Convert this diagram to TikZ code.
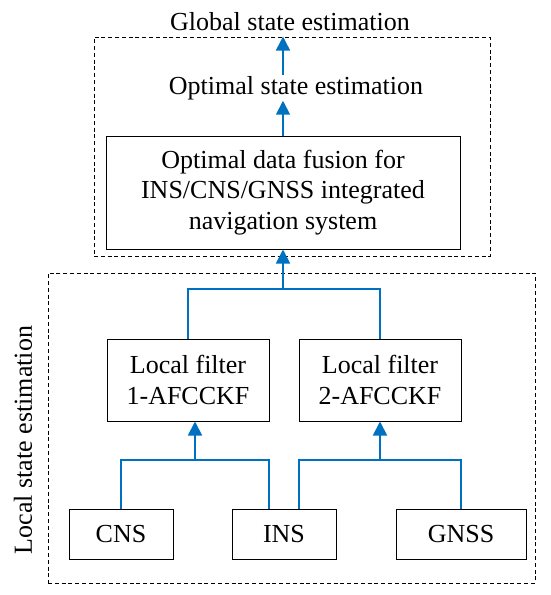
\documentclass[tikz,border=0pt]{standalone}
\usepackage{fontspec}
\setmainfont{Liberation Serif}
\usetikzlibrary{arrows.meta,calc}
\definecolor{lineblue}{HTML}{0070C0}
\tikzset{
  txt/.style={font=\fontsize{26}{31}\selectfont, inner sep=1pt},
  solidbox/.style={draw=black, line width=1pt, font=\fontsize{26}{30.5}\selectfont, align=center, inner sep=0pt},
  dashbox/.style={draw=black, line width=0.9pt, dash pattern=on 4pt off 2.8pt, inner sep=0pt},
  bline/.style={draw=lineblue, line width=1.8pt},
  barrow/.style={bline, -{Triangle[length=14pt,width=14pt]}}
}
\begin{document}
\begin{tikzpicture}[x=1pt,y=-1pt]
\useasboundingbox (0,0) rectangle (550,595);
% dashed groups
\node[dashbox, minimum width=396pt, minimum height=219pt] (topbox) at (292,146.5) {};
\node[dashbox, minimum width=487pt, minimum height=310pt] (botbox) at (291.5,428) {};
% texts
\node[txt, anchor=base] (glob) at (290,30) {Global state estimation};
\node[txt, anchor=base] (opt) at (296,94) {Optimal state estimation};
\node[txt, rotate=90] (loc) at (23,440) {Local state estimation};
% boxes
\node[solidbox, minimum width=354pt, minimum height=113pt] (fus) at (283,192.5)
  {Optimal data fusion for\\INS/CNS/GNSS integrated\\navigation system};
\node[solidbox, minimum width=162pt, minimum height=82pt] (f1) at (188,380) {Local filter\\1-AFCCKF};
\node[solidbox, minimum width=162pt, minimum height=82pt] (f2) at (380,380) {Local filter\\2-AFCCKF};
\node[solidbox, minimum width=104pt, minimum height=50pt] (cns) at (121,534) {CNS};
\node[solidbox, minimum width=104pt, minimum height=50pt] (ins) at (284,534) {INS};
\node[solidbox, minimum width=130pt, minimum height=50pt] (gnss) at (461,534) {GNSS};
% junctions and connection points
\coordinate (j) at (283,289);
\coordinate (jl) at (195,460);
\coordinate (jr) at (380,460);
\coordinate (insl) at ($(ins.north)+(-15,0)$);
\coordinate (insr) at ($(ins.north)+(15,0)$);
% top arrows
\draw[barrow] (fus.north |- opt.north) -- (fus.north |- topbox.north);
\draw[barrow] (fus.north) -- (fus.north |- opt.south);
% filters to fusion
\draw[bline] (f1.north) -- (f1.north |- j) -- (f2.north |- j) -- (f2.north);
\draw[barrow] (j) -- (fus.south);
% sensors to filters
\draw[bline] (cns.north) -- (cns.north |- jl) -- (insl |- jl) -- (insl);
\draw[barrow] (jl) -- (jl |- f1.south);
\draw[bline] (insr) -- (insr |- jr) -- (gnss.north |- jr) -- (gnss.north);
\draw[barrow] (jr) -- (jr |- f2.south);
\end{tikzpicture}
\end{document}
